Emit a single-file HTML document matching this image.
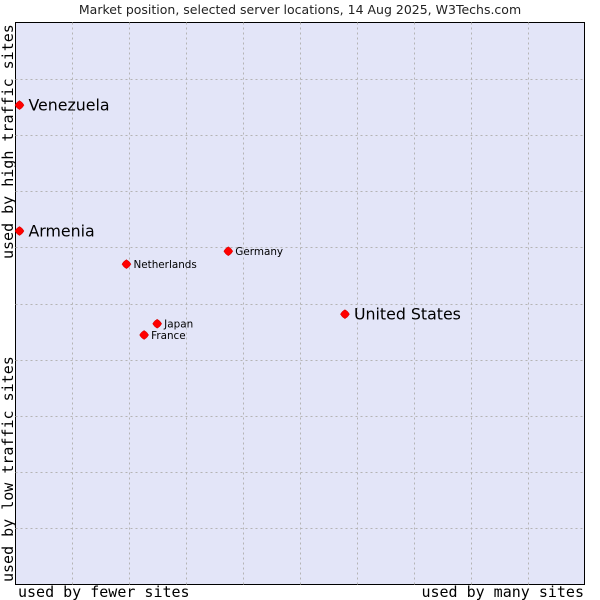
<!DOCTYPE html>
<html><head><meta charset="utf-8"><style>
body{margin:0;background:#fff;width:600px;height:600px;overflow:hidden}
svg{display:block}
</style></head><body>
<svg width="600" height="600" xmlns="http://www.w3.org/2000/svg">
<text x="300" y="14" text-anchor="middle" font-family="DejaVu Sans, sans-serif" font-size="12.5" fill="#222">Market position, selected server locations, 14 Aug 2025, W3Techs.com</text>
<rect x="15.5" y="22.5" width="569" height="562" fill="#e3e5f8" stroke="#000"/>
<g id="grid"></g>
<g id="pts"></g>
<text x="18" y="597" font-family="DejaVu Sans Mono, Liberation Mono, monospace" font-size="15" fill="#000">used by fewer sites</text>
<text x="584" y="597" text-anchor="end" font-family="DejaVu Sans Mono, Liberation Mono, monospace" font-size="15" fill="#000">used by many sites</text>
<text transform="translate(13,582) rotate(-90)" font-family="DejaVu Sans Mono, Liberation Mono, monospace" font-size="15" fill="#000">used by low traffic sites</text>
<text transform="translate(13,259) rotate(-90)" font-family="DejaVu Sans Mono, Liberation Mono, monospace" font-size="15" fill="#000">used by high traffic sites</text>
</svg>
<script>
const names=["Venezuela","Armenia","Netherlands","Germany","Japan","France","United States"];
const xVals=[0.7,0.7,19.5,37.4,24.9,22.6,57.9];
const yVals=[85.3,62.9,57.0,59.3,46.4,44.4,48.1];
const big=[true,true,false,false,false,false,true];
const L=15.5,R=584.5,T=22.5,B=584.5;
const sx=v=>L+(R-L)*v/100, sy=v=>B-(B-T)*v/100;
const NS="http://www.w3.org/2000/svg";
const g=document.getElementById('grid');
for(let i=1;i<10;i++){
 let l=document.createElementNS(NS,'line');
 
 
 let x=Math.round(sx(i*10))+0.5;
 l.setAttribute('x1',x);l.setAttribute('x2',x);l.setAttribute('y1',T);l.setAttribute('y2',B);
 l.setAttribute('stroke','#b4b4b4');l.setAttribute('stroke-dasharray','2,3');g.appendChild(l);
 let h=document.createElementNS(NS,'line');
 
 
 let y=Math.round(sy(i*10))+0.5;
 h.setAttribute('x1',L);h.setAttribute('x2',R);h.setAttribute('y1',y);h.setAttribute('y2',y);
 h.setAttribute('stroke','#b4b4b4');h.setAttribute('stroke-dasharray','2,3');g.appendChild(h);
}
const p=document.getElementById('pts');
names.forEach((n,i)=>{
 const x=sx(xVals[i]),y=sy(yVals[i]);
 let d=document.createElementNS(NS,'path');
 
 
 d.setAttribute('d',`M${x-4.5},${y}Q${x-3},${y-3} ${x},${y-4.5}Q${x+3},${y-3} ${x+4.5},${y}Q${x+3},${y+3} ${x},${y+4.5}Q${x-3},${y+3} ${x-4.5},${y}Z`);
 d.setAttribute('fill','#f00');d.setAttribute('stroke','#c00');d.setAttribute('stroke-width','0.5');p.appendChild(d);
 let t=document.createElementNS(NS,'text');
 
 
 t.setAttribute('x',x+(big[i]?9:7));t.setAttribute('y',y+(big[i]?5.5:4));
 t.setAttribute('font-family','DejaVu Sans, sans-serif');
 t.setAttribute('font-size',big[i]?'15.8':'10.4');
 t.textContent=n;p.appendChild(t);
});
</script>
</body></html>
